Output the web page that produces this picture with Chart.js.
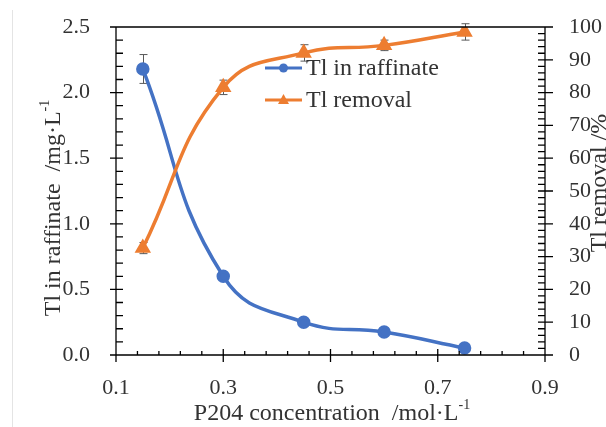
<!DOCTYPE html>
<html>
<head>
<meta charset="utf-8">
<script src="https://cdn.jsdelivr.net/npm/chart.js@4.4.1/dist/chart.umd.min.js"></script>
<style>
html, body { margin: 0; padding: 0; background: #fff; }
#myChart { display: block; }
</style>
</head>
<body>
<canvas id="myChart" width="606" height="427"></canvas>
<script>
// values
const concentrations = [0.15, 0.30, 0.45, 0.60, 0.75];
const raffinate = [2.18, 0.60, 0.25, 0.175, 0.053];
const raffinateErr = [0.11, 0.025, 0.015, 0.015, 0.01];
const removal = [32.6, 81.6, 92.1, 94.4, 98.5];
const removalErr = [1.7, 2.2, 2.5, 1.6, 2.5];

const xTicks = [0.1, 0.3, 0.5, 0.7, 0.9];
const leftTicks = [0, 0.5, 1.0, 1.5, 2.0, 2.5];
const rightTicks = [0, 10, 20, 30, 40, 50, 60, 70, 80, 90, 100];

const BLUE = "#4472C4";
const ORANGE = "#ED7D31";
const TEXT = "#333333";
const SERIF = "'Liberation Serif', 'Times New Roman', serif";
const TICK_SIZE = 22;
const TITLE_SIZE = 24;

function withSup(ctx, main, sup, x, y, size) {
  // draws "main" + superscript, centered at x
  ctx.font = size + "px " + SERIF;
  const w1 = ctx.measureText(main).width;
  ctx.font = Math.round(size * 0.6) + "px " + SERIF;
  const w2 = ctx.measureText(sup).width;
  const start = x - (w1 + w2) / 2;
  ctx.textAlign = "left";
  ctx.textBaseline = "middle";
  ctx.font = size + "px " + SERIF;
  ctx.fillText(main, start, y);
  ctx.font = Math.round(size * 0.6) + "px " + SERIF;
  ctx.fillText(sup, start + w1, y - size * 0.35);
}

const errorBars = {
  id: "errorBars",
  beforeDatasetsDraw(chart) {
    const ctx = chart.ctx;
    const x = chart.scales.x;
    ctx.save();
    ctx.strokeStyle = "#595959";
    ctx.lineWidth = 1;
    const sets = [[raffinate, raffinateErr, chart.scales.y], [removal, removalErr, chart.scales.y2]];
    sets.forEach(([vals, errs, ys]) => {
      concentrations.forEach((c, i) => {
        const px = Math.round(x.getPixelForValue(c)) + 0.5;
        const top = ys.getPixelForValue(vals[i] + errs[i]);
        const bot = ys.getPixelForValue(vals[i] - errs[i]);
        ctx.beginPath();
        ctx.moveTo(px, top); ctx.lineTo(px, bot);
        ctx.moveTo(px - 4, top); ctx.lineTo(px + 4, top);
        ctx.moveTo(px - 4, bot); ctx.lineTo(px + 4, bot);
        ctx.stroke();
      });
    });
    ctx.restore();
  }
};

const frame = {
  id: "frame",
  afterDraw(chart) {
    const ctx = chart.ctx;
    const a = chart.chartArea;
    const x = chart.scales.x, y = chart.scales.y, y2 = chart.scales.y2;
    ctx.save();
    // faint page edge
    ctx.strokeStyle = "#e4e4e4";
    ctx.lineWidth = 1;
    ctx.beginPath(); ctx.moveTo(12.5, 10); ctx.lineTo(12.5, 427); ctx.stroke();

    ctx.strokeStyle = "#000";
    ctx.lineWidth = 1.3;
    ctx.beginPath();
    ctx.moveTo(a.left, a.top); ctx.lineTo(a.right, a.top);
    ctx.moveTo(a.left, a.top); ctx.lineTo(a.left, a.bottom);
    ctx.moveTo(a.right, a.top); ctx.lineTo(a.right, a.bottom);
    ctx.moveTo(a.left, a.bottom); ctx.lineTo(a.right, a.bottom);
    // left axis ticks
    for (let v = 0; v <= 2.5001; v += 0.1) {
      const p = y.getPixelForValue(v);
      const major = Math.abs(v / 0.5 - Math.round(v / 0.5)) < 1e-6;
      ctx.moveTo(a.left - (major ? 6 : 0), p); ctx.lineTo(a.left + 7, p);
    }
    // right axis ticks
    for (let v = 0; v <= 100.001; v += 2) {
      const p = y2.getPixelForValue(v);
      const major = v % 10 === 0;
      ctx.moveTo(a.right - 7, p); ctx.lineTo(a.right + (major ? 8 : 0), p);
    }
    // x axis ticks
    for (let i = 0; i <= 20; i++) {
      const v = 0.1 + i * 0.04;
      const p = x.getPixelForValue(v);
      const major = i % 5 === 0;
      ctx.moveTo(p, a.bottom - (major ? 6 : 4)); ctx.lineTo(p, a.bottom + (major ? 7 : 0));
    }
    ctx.stroke();

    // titles
    ctx.fillStyle = TEXT;
    withSup(ctx, "P204 concentration  /mol\u00B7L", "-1", 332, 414, TITLE_SIZE);
    ctx.save();
    ctx.translate(54, 208);
    ctx.rotate(-Math.PI / 2);
    withSup(ctx, "Tl in raffinate  /mg\u00B7L", "-1", 0, 0, TITLE_SIZE);
    ctx.restore();
    ctx.save();
    ctx.translate(600, 183);
    ctx.rotate(-Math.PI / 2);
    ctx.font = TITLE_SIZE + "px " + SERIF;
    ctx.textAlign = "center";
    ctx.textBaseline = "middle";
    ctx.fillText("Tl removal /%", 0, 0);
    ctx.restore();

    // legend
    const entries = [["Tl in raffinate", BLUE, "circle", 68], ["Tl removal", ORANGE, "triangle", 100]];
    entries.forEach(([label, color, style, ly]) => {
      ctx.strokeStyle = color;
      ctx.fillStyle = color;
      ctx.lineWidth = 3;
      ctx.beginPath(); ctx.moveTo(265, ly); ctx.lineTo(302, ly); ctx.stroke();
      ctx.beginPath();
      if (style === "circle") {
        ctx.arc(283.5, ly, 4.5, 0, Math.PI * 2);
      } else {
        ctx.moveTo(283.5, ly - 6); ctx.lineTo(289, ly + 4); ctx.lineTo(278, ly + 4); ctx.closePath();
      }
      ctx.fill();
      ctx.fillStyle = TEXT;
      ctx.font = TITLE_SIZE + "px " + SERIF;
      ctx.textAlign = "left";
      ctx.textBaseline = "middle";
      ctx.fillText(label, 306, ly + 1);
    });
    ctx.restore();
  }
};

function setTicks(values) {
  return (scale) => { scale.ticks = values.map((v) => ({ value: v })); };
}

function fitWidth(w) {
  return (s) => { s.width = w; s.paddingTop = 0; s.paddingBottom = 0; };
}

const ctx = document.getElementById("myChart");

new Chart(ctx, {
  type: "line",
  data: {
    datasets: [{
      label: "Tl in raffinate",
      data: concentrations.map((c, i) => ({ x: c, y: raffinate[i] })),
      yAxisID: "y",
      borderColor: BLUE,
      backgroundColor: BLUE,
      borderWidth: 3.5,
      pointRadius: 5,
      pointStyle: "circle",
      tension: 0.45,
      order: 2
    }, {
      label: "Tl removal",
      data: concentrations.map((c, i) => ({ x: c, y: removal[i] })),
      yAxisID: "y2",
      borderColor: ORANGE,
      backgroundColor: ORANGE,
      borderWidth: 3.5,
      pointRadius: 6,
      pointStyle: "triangle",
      tension: 0.45,
      order: 1
    }]
  },
  options: {
    responsive: false,
    animation: false,
    events: [],
    layout: { padding: { top: 27, left: 0, right: 0, bottom: 0 } },
    plugins: { legend: { display: false }, tooltip: { enabled: false } },
    scales: {
      x: {
        type: "linear",
        min: 0.1, max: 0.9,
        afterBuildTicks: setTicks(xTicks),
        afterFit: (s) => { s.height = 72; s.paddingLeft = 0; s.paddingRight = 0; },
        grid: { display: false, drawTicks: false },
        border: { display: false },
        ticks: {
          padding: 20,
          color: TEXT,
          font: { family: SERIF, size: TICK_SIZE },
          maxRotation: 0,
          callback: (v) => v.toFixed(1)
        }
      },
      y: {
        position: "left",
        min: 0, max: 2.5,
        afterBuildTicks: setTicks(leftTicks),
        afterFit: fitWidth(116),
        grid: { display: false, drawTicks: false },
        border: { display: false },
        ticks: {
          padding: 26,
          color: TEXT,
          font: { family: SERIF, size: TICK_SIZE },
          callback: (v) => v.toFixed(1)
        }
      },
      y2: {
        position: "right",
        min: 0, max: 100,
        afterBuildTicks: setTicks(rightTicks),
        afterFit: fitWidth(61),
        grid: { display: false, drawTicks: false },
        border: { display: false },
        ticks: {
          padding: 24,
          color: TEXT,
          font: { family: SERIF, size: TICK_SIZE },
          callback: (v) => String(v)
        }
      }
    }
  },
  plugins: [errorBars, frame]
});
</script>
</body>
</html>
